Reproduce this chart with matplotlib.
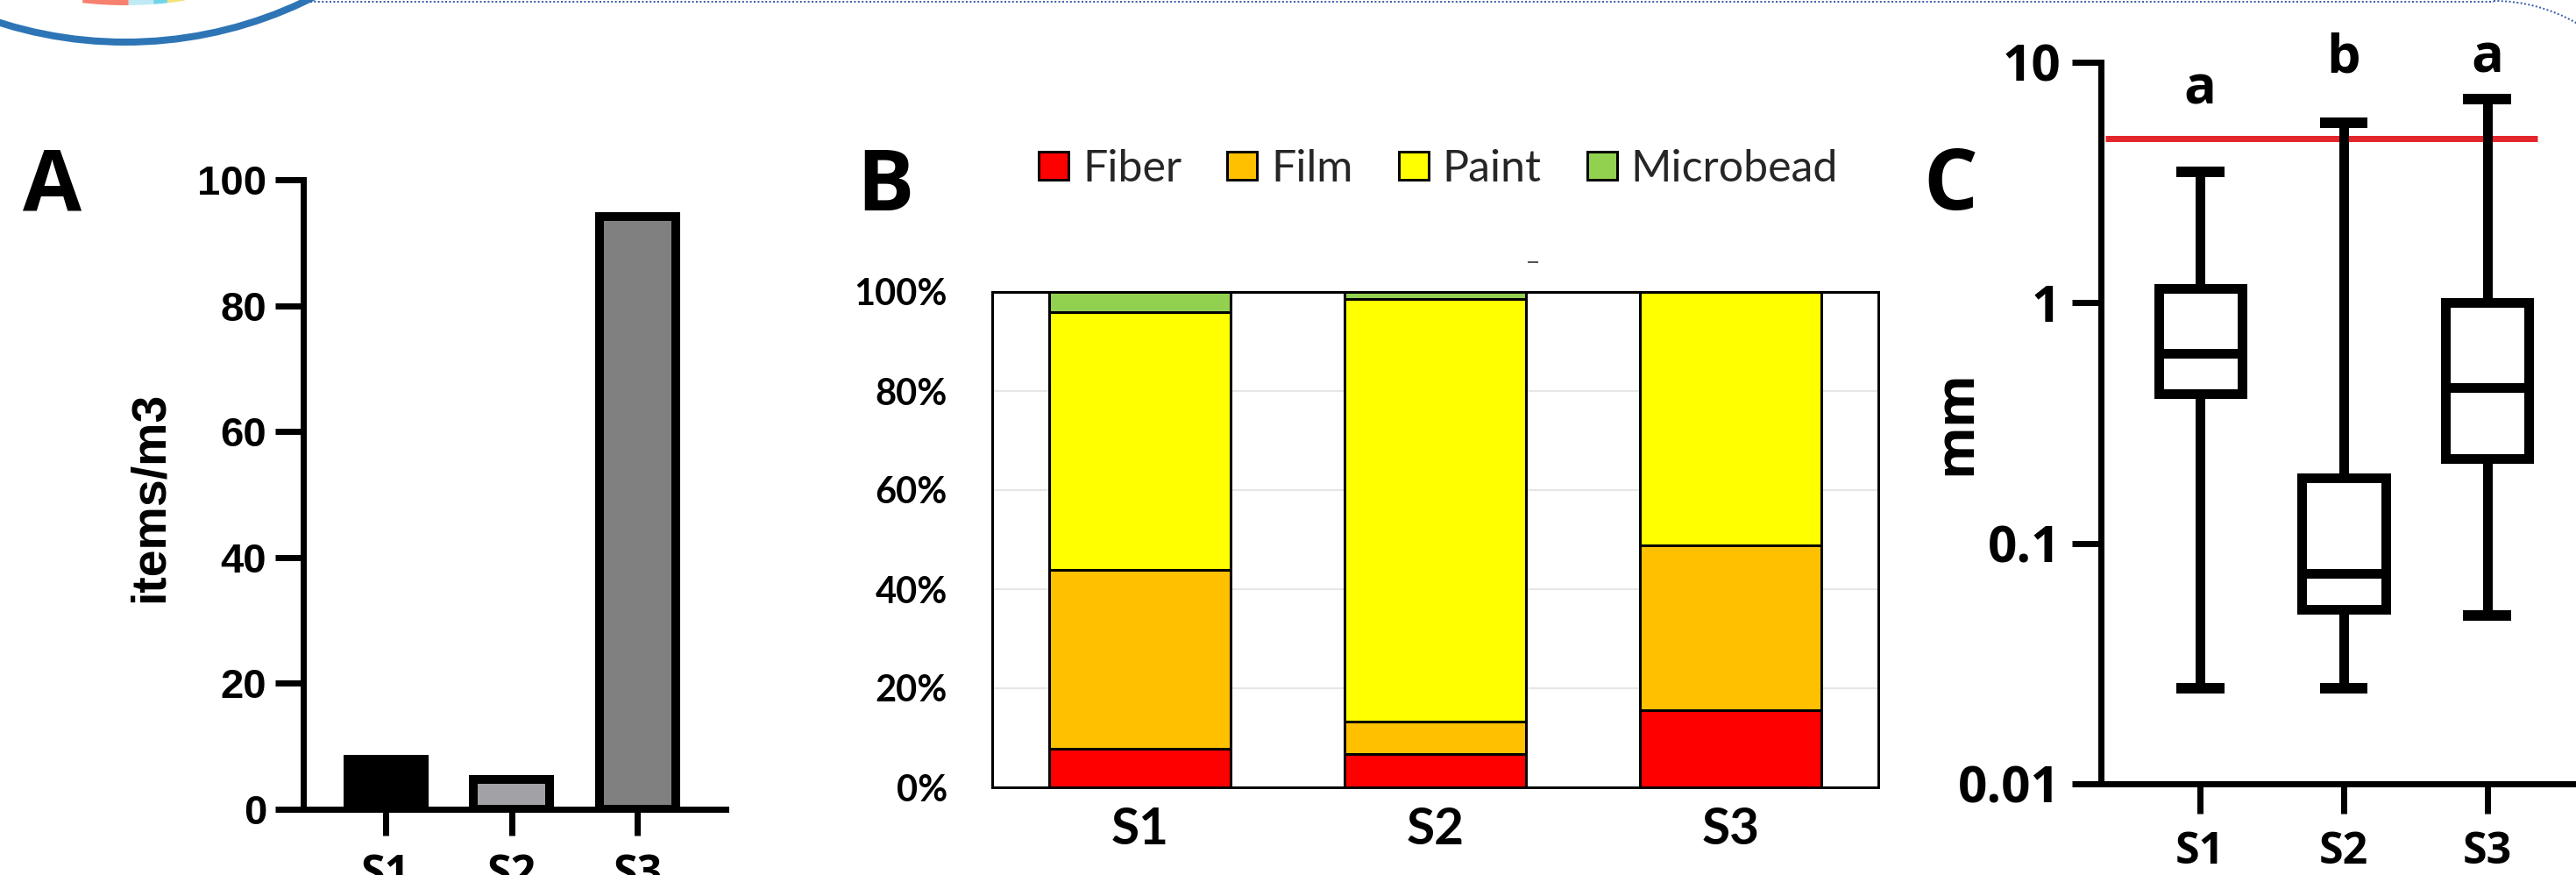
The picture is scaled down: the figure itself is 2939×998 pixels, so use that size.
import matplotlib
matplotlib.use("Agg")
import matplotlib.pyplot as plt
import matplotlib.transforms as mtransforms
from matplotlib.patches import Circle, Wedge, Arc
from matplotlib.ticker import FixedLocator, NullLocator
import numpy as np

# ---------------- data ----------------
sites = ["S1", "S2", "S3"]

# Panel A: abundance (items/m3)
abundance = [8.0, 4.7, 94.2]
abundance_colors = ["#000000", "#a2a2a6", "#808080"]
a_yticks = [0, 20, 40, 60, 80, 100]

# Panel B: shape composition (%)
shape_types = ["Fiber", "Film", "Paint", "Microbead"]
fiber = [7.7, 6.8, 15.6]
film = [36.2, 6.5, 33.2]
paint = [52.0, 85.3, 51.2]
microbead = [4.1, 1.4, 0.0]
shape_colors = ["#ff0000", "#ffc000", "#ffff00", "#92d050"]
b_yticks = [0, 20, 40, 60, 80, 100]
b_yticklabels = ["0%", "20%", "40%", "60%", "80%", "100%"]

# Panel C: size distribution (mm), box-and-whisker summary
size_whislo = [0.025, 0.025, 0.05]
size_q1 = [0.418, 0.053, 0.224]
size_med = [0.615, 0.075, 0.444]
size_q3 = [1.14, 0.187, 1.0]
size_whishi = [3.49, 5.58, 6.98]
size_limit = 4.8
size_letters = ["a", "b", "a"]
c_yticks = [0.01, 0.1, 1, 10]
c_yticklabels = ["0.01", "0.1", "1", "10"]

# ---------------- layout ----------------
W, H = 2939, 998
DPI = 100
PX = 72.0 / DPI  # points per pixel

fig = plt.figure(figsize=(W / DPI, H / DPI), dpi=DPI)
fig.patch.set_facecolor("white")


def fx(p):
    return p / W


def fy(p):
    return 1 - p / H


ARIAL = "Liberation Sans"
SEGOE = "Open Sans"
CALIBRI = "Lato"

# decorative background (frame corner & logo arc)
bg = fig.add_axes([0, 0, 1, 1])
bg.set_xlim(0, W)
bg.set_ylim(H, 0)
bg.axis("off")
bg.add_patch(Circle((143, -427), 475, fill=False, edgecolor="#2e75b6", lw=8 * PX))
for t1, t2, col in [(89.5, 96.5, "#f8806e"), (85.7, 89.5, "#bfeaf5"),
                    (83.6, 85.7, "#6fd6ea"), (81.0, 83.6, "#f3e27a")]:
    bg.add_patch(Wedge((143, -427), 433, t1, t2, width=7, color=col, lw=0))
bg.plot([354, 2845], [1.5, 1.5], ls=(0, (1, 1.2)), color="#3a5fa8", lw=2 * PX)
bg.add_patch(Arc((2845, 190), 378, 378, theta1=270, theta2=300,
                 edgecolor="#3a5fa8", lw=2 * PX, ls=(0, (1, 1.2))))
bg.plot([1744, 1754], [299, 299], color="#555555", lw=2 * PX)

# ---------------- Panel A ----------------
axA = fig.add_axes([fx(346), fy(923), (828 - 346) / W, (923 - 205) / H])
axA.set_facecolor("none")
xa = np.arange(len(sites))
axA.bar(xa, abundance, width=0.605, color=abundance_colors, edgecolor="black",
        linewidth=10 * PX, zorder=2)
axA.set_xlim(-0.655, 2.70)
axA.set_ylim(0, 100)
for s in ["top", "right"]:
    axA.spines[s].set_visible(False)
for s in ["left", "bottom"]:
    axA.spines[s].set_linewidth(7 * PX)
    axA.spines[s].set_zorder(3)
axA.set_yticks(a_yticks, labels=[str(v) for v in a_yticks], fontfamily=ARIAL,
               fontweight="bold", fontsize=34)
axA.set_xticks(xa, labels=sites, fontfamily=SEGOE, fontweight="bold", fontsize=36)
axA.tick_params(axis="y", length=32 * PX, width=7 * PX, pad=10 * PX)
axA.tick_params(axis="x", length=30 * PX, width=7 * PX, pad=20 * PX)
fig.text(fx(172), fy(567), "items/m3", rotation=90, ha="center", va="center",
         fontfamily=ARIAL, fontweight="bold", fontsize=40)
fig.text(fx(26), fy(240), "A", ha="left", va="baseline", fontfamily=SEGOE,
         fontweight="bold", fontsize=70)

# ---------------- Panel B ----------------
axB = fig.add_axes([fx(1132), fy(898), (2143 - 1132) / W, (898 - 333) / H])
axB.set_facecolor("none")
xb = np.arange(len(sites))
bottom = np.zeros(len(sites))
for name, vals, col in zip(shape_types, [fiber, film, paint, microbead], shape_colors):
    axB.bar(xb, vals, bottom=bottom, width=0.615, color=col, edgecolor="black",
            linewidth=3 * PX, label=name, zorder=2)
    bottom = bottom + np.array(vals)
axB.set_xlim(-0.5, 2.5)
axB.set_ylim(0, 100)
axB.yaxis.grid(True, color="#e6e6e6", lw=1.5)
axB.set_axisbelow(True)
for s in axB.spines.values():
    s.set_linewidth(3 * PX)
    s.set_zorder(3)
axB.set_yticks(b_yticks, labels=b_yticklabels, fontfamily=CALIBRI,
               fontweight="bold", fontsize=30)
axB.set_xticks(xb, labels=sites, fontfamily=CALIBRI, fontweight="bold", fontsize=42)
axB.tick_params(axis="y", length=0, pad=51 * PX)
axB.tick_params(axis="x", length=0, pad=22 * PX)
leg = axB.legend(loc="center", bbox_to_anchor=(0.5035, 1.248), ncol=4, frameon=False,
                 prop={"family": CALIBRI, "size": 36}, handlelength=0.68,
                 handleheight=0.62, handletextpad=0.32, columnspacing=1.04,
                 borderpad=0, borderaxespad=0)
for t in leg.get_texts():
    t.set_color("#262626")
fig.text(fx(977), fy(240), "B", ha="left", va="baseline", fontfamily=SEGOE,
         fontweight="bold", fontsize=70)

# ---------------- Panel C ----------------
axC = fig.add_axes([fx(2397), fy(894), (2951 - 2397) / W, (894 - 70.5) / H])
axC.set_facecolor("none")
axC.set_yscale("log")
stats = [dict(med=m, q1=a, q3=b, whislo=lo, whishi=hi, label=s)
         for m, a, b, lo, hi, s in zip(size_med, size_q1, size_q3,
                                       size_whislo, size_whishi, sites)]
xc = np.arange(len(sites))
axC.hlines(size_limit, -0.66, 2.35, color="#e3262b", lw=7 * PX, zorder=1.5)
axC.bxp(stats, positions=xc, widths=0.58, capwidths=0.335, showfliers=False,
        manage_ticks=False,
        boxprops=dict(color="black", lw=11 * PX, solid_joinstyle="miter",
                      solid_capstyle="projecting"),
        whiskerprops=dict(color="black", lw=11 * PX, solid_capstyle="butt"),
        capprops=dict(color="black", lw=12 * PX, solid_capstyle="butt"),
        medianprops=dict(color="black", lw=11 * PX, solid_capstyle="butt"))
axC.set_xlim(-0.69, 2.69)
axC.set_ylim(0.01, 10)
for s in ["top", "right"]:
    axC.spines[s].set_visible(False)
for s in ["left", "bottom"]:
    axC.spines[s].set_linewidth(7 * PX)
axC.yaxis.set_major_locator(FixedLocator(c_yticks))
axC.yaxis.set_minor_locator(NullLocator())
axC.set_yticklabels(c_yticklabels, fontfamily=SEGOE, fontweight="bold", fontsize=42)
axC.set_xticks(xc, labels=sites, fontfamily=SEGOE, fontweight="bold", fontsize=36)
axC.tick_params(axis="y", which="both", length=33 * PX, width=7 * PX, pad=13 * PX)
axC.tick_params(axis="x", length=34 * PX, width=7 * PX, pad=19 * PX)
trans = mtransforms.blended_transform_factory(axC.transData, axC.transAxes)
letter_baseline = [0.942, 0.985, 0.985]
for xi, letter, yb in zip(xc, size_letters, letter_baseline):
    axC.text(xi, yb, letter, transform=trans, ha="center", va="baseline",
             fontfamily=SEGOE, fontweight="bold", fontsize=44, clip_on=False)
fig.text(fx(2233), fy(482), "mm", rotation=90, ha="center", va="center",
         fontfamily=SEGOE, fontweight="bold", fontsize=44)
fig.text(fx(2194), fy(239), "C", ha="left", va="baseline", fontfamily=SEGOE,
         fontweight="bold", fontsize=70)

fig.savefig("out.png", dpi=DPI, facecolor="white")
